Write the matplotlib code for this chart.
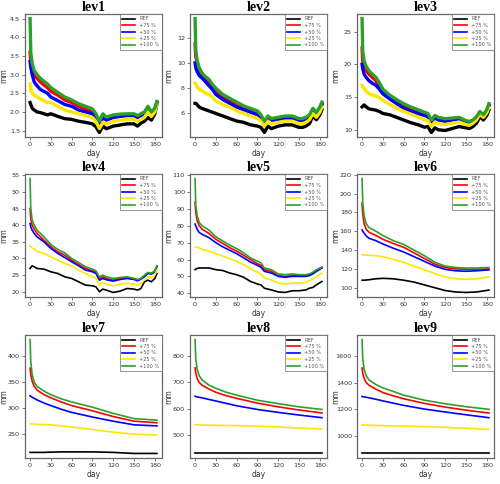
import matplotlib
matplotlib.use("Agg")
from matplotlib import pyplot as plt

# ---- data ----
labels = ["REF", "+75 %", "+50 %", "+25 %", "+100 %"]
colors = ["black", "red", "blue", "#FFE600", "#2CA02C"]

days_a = [0, 1, 3, 6, 10, 15, 20, 25, 30, 40, 50, 60, 70, 80, 90, 95, 100, 105,
          110, 120, 130, 140, 150, 155, 160, 165, 170, 175, 180, 183]

lev1_ref = [2.25, 2.2, 2.1, 2.05, 2.0, 1.98, 1.95, 1.92, 1.95, 1.88, 1.82, 1.8, 1.75, 1.72, 1.68,
            1.6, 1.45, 1.62, 1.55, 1.62, 1.65, 1.68, 1.68, 1.62, 1.7, 1.75, 1.85, 1.78, 1.95, 2.2]
lev1_p75 = [3.6, 3.35, 3.15, 3.0, 2.9, 2.8, 2.72, 2.65, 2.55, 2.45, 2.32, 2.25, 2.15, 2.08, 2.02,
            1.9, 1.7, 1.9, 1.82, 1.88, 1.9, 1.92, 1.92, 1.87, 1.92, 1.97, 2.1, 1.97, 2.07, 2.25]
lev1_p50 = [3.35, 3.2, 3.0, 2.8, 2.7, 2.6, 2.55, 2.5, 2.4, 2.3, 2.2, 2.15, 2.05, 2.0, 1.95,
            1.85, 1.65, 1.85, 1.78, 1.85, 1.88, 1.9, 1.9, 1.85, 1.9, 1.95, 2.08, 1.95, 2.05, 2.25]
lev1_p25 = [2.75, 2.6, 2.5, 2.45, 2.4, 2.35, 2.3, 2.25, 2.25, 2.15, 2.05, 2.0, 1.95, 1.9, 1.85,
            1.75, 1.55, 1.72, 1.68, 1.75, 1.78, 1.8, 1.8, 1.75, 1.8, 1.85, 2.0, 1.88, 2.0, 2.2]
lev1_p100 = [4.5, 3.6, 3.3, 3.1, 3.0, 2.9, 2.82, 2.75, 2.65, 2.52, 2.4, 2.32, 2.22, 2.15, 2.08,
             1.95, 1.75, 1.95, 1.86, 1.92, 1.94, 1.95, 1.95, 1.9, 1.95, 2.0, 2.15, 2.0, 2.1, 2.28]

lev2_ref = [6.8, 6.8, 6.7, 6.5, 6.4, 6.3, 6.2, 6.1, 6.0, 5.8, 5.6, 5.4, 5.3, 5.1, 5.0,
            4.9, 4.5, 5.0, 4.8, 5.0, 5.1, 5.1, 4.9, 4.9, 5.0, 5.2, 5.8, 5.5, 5.9, 6.3]
lev2_p75 = [11.5, 10.5, 10.0, 9.4, 9.0, 8.7, 8.5, 8.1, 7.8, 7.3, 7.0, 6.7, 6.5, 6.2, 6.0,
            5.8, 5.3, 5.7, 5.5, 5.6, 5.7, 5.7, 5.5, 5.5, 5.6, 5.8, 6.3, 6.0, 6.4, 6.8]
lev2_p50 = [10.0, 9.6, 9.3, 9.0, 8.8, 8.5, 8.2, 7.9, 7.5, 7.1, 6.8, 6.5, 6.3, 6.1, 5.9,
            5.7, 5.2, 5.6, 5.4, 5.5, 5.6, 5.6, 5.4, 5.4, 5.5, 5.7, 6.2, 5.9, 6.3, 6.7]
lev2_p25 = [8.4, 8.3, 8.1, 7.9, 7.8, 7.6, 7.5, 7.3, 7.0, 6.7, 6.5, 6.2, 6.0, 5.8, 5.6,
            5.4, 5.0, 5.4, 5.2, 5.3, 5.4, 5.4, 5.2, 5.2, 5.3, 5.5, 6.0, 5.7, 6.1, 6.5]
lev2_p100 = [13.5, 11.0, 10.2, 9.6, 9.2, 8.9, 8.7, 8.3, 8.0, 7.5, 7.2, 6.9, 6.6, 6.4, 6.2,
             5.9, 5.4, 5.8, 5.6, 5.7, 5.8, 5.8, 5.6, 5.6, 5.7, 5.9, 6.4, 6.1, 6.5, 6.9]

lev3_ref = [13.5, 13.6, 13.8, 13.5, 13.2, 13.1, 13.0, 12.8, 12.5, 12.3, 11.9, 11.5, 11.1, 10.8, 10.4,
            10.5, 9.6, 10.3, 10.0, 9.9, 10.2, 10.5, 10.3, 10.2, 10.5, 11.0, 12.0, 11.5, 12.2, 13.0]
lev3_p75 = [22.5, 20.5, 19.5, 19.0, 18.5, 18.0, 17.5, 16.7, 15.8, 15.0, 14.3, 13.6, 13.2, 12.8, 12.4,
            12.2, 11.2, 12.0, 11.7, 11.5, 11.7, 11.8, 11.3, 11.2, 11.4, 11.9, 12.7, 12.2, 13.0, 13.8]
lev3_p50 = [20.0, 19.3, 18.5, 18.0, 17.5, 17.1, 16.8, 16.2, 15.5, 14.7, 14.0, 13.3, 12.9, 12.5, 12.2,
            12.0, 11.0, 11.8, 11.5, 11.3, 11.5, 11.6, 11.2, 11.1, 11.3, 11.8, 12.6, 12.1, 12.9, 13.7]
lev3_p25 = [16.8, 16.6, 16.3, 15.9, 15.5, 15.3, 15.2, 14.9, 14.5, 13.9, 13.3, 12.8, 12.4, 12.0, 11.5,
            11.4, 10.5, 11.2, 10.9, 10.8, 11.0, 11.2, 10.8, 10.7, 11.0, 11.5, 12.4, 11.9, 12.6, 13.4]
lev3_p100 = [27.0, 22.0, 20.5, 19.7, 19.0, 18.5, 18.0, 17.2, 16.2, 15.3, 14.6, 14.0, 13.5, 13.1, 12.7,
             12.5, 11.5, 12.2, 11.9, 11.7, 11.8, 11.9, 11.4, 11.3, 11.5, 12.0, 12.8, 12.3, 13.1, 14.0]

days_4 = [0, 1, 3, 6, 10, 20, 30, 40, 50, 60, 70, 80, 90, 95, 100, 105, 110, 120, 130,
          140, 150, 155, 160, 165, 170, 175, 180, 183]
lev4_ref = [27, 27.3, 27.8, 27.5, 27, 26.8, 26, 25.5, 24.5, 24, 23, 22, 21.8, 21.5, 20, 20.8, 20.5,
            19.8, 20.2, 21, 20.8, 20.5, 21, 23, 23.5, 23, 24, 25.5]
lev4_p75 = [45, 42, 40, 38.8, 37.5, 35.5, 33.5, 32, 31, 29.5, 28.2, 27, 26.3, 26, 24, 24.5, 24,
            23.5, 24, 24.2, 23.9, 23.5, 24, 24.8, 25.7, 25.5, 26.2, 27.7]
lev4_p50 = [40.5, 39.5, 38.5, 37.5, 36.5, 35, 33, 31.5, 30.3, 29, 27.8, 26.5, 26, 25.5, 23.5, 24,
            23.6, 23.2, 23.7, 24, 23.7, 23.3, 23.8, 24.5, 25.5, 25.3, 26, 27.5]
lev4_p25 = [33.8, 33.5, 33.2, 32.8, 32.2, 31.5, 30.5, 29.5, 28.5, 27.8, 26.5, 25.5, 24.5, 24.2, 22,
            22.8, 22.2, 21.8, 22.3, 22.5, 22.3, 22, 22.5, 23.5, 24.5, 24.3, 25, 26.5]
lev4_p100 = [54, 45, 41.5, 40, 38.5, 36.5, 34.2, 32.7, 31.7, 30, 28.8, 27.5, 26.8, 26.3, 24.5, 25,
             24.5, 24, 24.3, 24.5, 24, 23.7, 24, 25, 25.8, 25.6, 26.3, 27.8]

days_5 = [0, 1, 3, 6, 10, 20, 30, 40, 50, 60, 70, 80, 90, 95, 100, 110, 120, 130, 140,
          150, 160, 165, 170, 175, 183]
lev5_ref = [54, 54.3, 54.7, 55, 55, 55, 54, 53.5, 52, 51, 49.5, 47, 45.5, 45, 43, 42, 40.8, 40.5,
            41.5, 41.5, 42, 43, 43.5, 45, 47]
lev5_p75 = [94, 88, 83, 80, 78, 75.5, 72, 69.5, 67, 65, 62.5, 60, 57.5, 56.5, 54, 53, 50.5, 50,
            50.5, 50.5, 50.5, 51, 52, 53.5, 55.5]
lev5_p50 = [81, 80, 78, 76, 75, 73, 70, 67.5, 65.5, 63.5, 61, 58.5, 56.5, 55.5, 53, 52, 50, 49.5,
            50, 50, 50, 50.5, 51.5, 53, 55]
lev5_p25 = [67.5, 67.4, 67.2, 67, 66, 65, 63.5, 62, 60.5, 59, 57, 54.5, 52.5, 51.5, 49, 48, 46,
            45.5, 46, 46, 46.5, 47.5, 48.5, 50, 52]
lev5_p100 = [108, 92, 86, 82, 80, 77.5, 73.5, 71, 68.5, 66.5, 64, 61, 59, 58, 55, 54, 51.5, 51,
             51.5, 51, 51, 51.5, 52.5, 54, 55.5]

days_6 = [0, 1, 3, 6, 10, 20, 30, 45, 60, 75, 90, 105, 120, 135, 150, 165, 183]
lev6_ref = [108, 108, 108, 108.2, 108.5, 109.5, 110, 109.5, 108, 106, 103, 100, 97, 95.5, 95, 95.5, 97.5]
lev6_p75 = [190, 178, 168, 162, 159, 155.5, 151.5, 147, 143, 137, 131, 125, 121.5, 120, 119.5, 119.5, 120]
lev6_p50 = [161.5, 160, 158, 155, 152.5, 150, 146.5, 142, 138, 133, 128, 123, 119.5, 118, 117.5, 118, 119]
lev6_p25 = [135, 135, 134.8, 134.6, 134.5, 134, 133, 130, 127, 123, 119, 115, 111.5, 109.5, 109, 109.5, 111.5]
lev6_p100 = [216, 190, 176, 168, 164, 160, 155.5, 150, 146, 140, 134, 127, 123, 121.5, 121, 121, 121.5]

days_c = [0, 1, 3, 6, 10, 20, 30, 45, 60, 90, 120, 150, 183]
lev7_ref = [215, 215, 215, 215, 215, 215, 215.5, 216, 216, 216, 215, 213, 213]
lev7_p75 = [377, 365, 352, 342, 335, 326, 320, 312, 305, 295, 284, 275, 272]
lev7_p50 = [324, 323, 321, 319, 316, 310, 305, 298, 292, 283, 275, 268, 266]
lev7_p25 = [270, 270, 270, 269.5, 269, 268.5, 268, 266, 264, 259, 254, 250, 248.5]
lev7_p100 = [432, 390, 365, 350, 342, 333, 326, 318, 312, 302, 290, 280, 277]

lev8_ref = [432, 432, 432, 432, 432, 432, 432, 432, 432, 432, 432, 432, 432]
lev8_p75 = [755, 735, 715, 700, 690, 675, 663, 650, 640, 622, 608, 596, 585]
lev8_p50 = [648, 647, 645, 644, 642, 636, 630, 621, 612, 598, 587, 577, 567]
lev8_p25 = [540, 540, 540, 539.5, 539, 538.5, 538, 537.5, 537, 535, 532, 528, 524]
lev8_p100 = [862, 790, 750, 725, 710, 690, 678, 663, 652, 633, 620, 608, 598]

lev9_ref = [865, 865, 865, 865, 865, 865, 865, 865, 865, 865, 865, 865, 865]
lev9_p75 = [1510, 1470, 1430, 1400, 1380, 1350, 1325, 1300, 1278, 1243, 1215, 1192, 1170]
lev9_p50 = [1295, 1294, 1292, 1289, 1285, 1274, 1262, 1245, 1228, 1200, 1178, 1157, 1135]
lev9_p25 = [1080, 1080, 1079, 1079, 1078, 1076, 1075, 1073, 1072, 1067, 1062, 1055, 1047]
lev9_p100 = [1725, 1580, 1500, 1450, 1420, 1385, 1360, 1333, 1305, 1267, 1240, 1218, 1198]

panels = [
    ("lev1", days_a, [lev1_ref, lev1_p75, lev1_p50, lev1_p25, lev1_p100], [1.5, 2.0, 2.5, 3.0, 3.5, 4.0, 4.5]),
    ("lev2", days_a, [lev2_ref, lev2_p75, lev2_p50, lev2_p25, lev2_p100], [6, 8, 10, 12]),
    ("lev3", days_a, [lev3_ref, lev3_p75, lev3_p50, lev3_p25, lev3_p100], [10, 15, 20, 25]),
    ("lev4", days_4, [lev4_ref, lev4_p75, lev4_p50, lev4_p25, lev4_p100], [20, 25, 30, 35, 40, 45, 50, 55]),
    ("lev5", days_5, [lev5_ref, lev5_p75, lev5_p50, lev5_p25, lev5_p100], [40, 50, 60, 70, 80, 90, 100, 110]),
    ("lev6", days_6, [lev6_ref, lev6_p75, lev6_p50, lev6_p25, lev6_p100], [100, 120, 140, 160, 180, 200, 220]),
    ("lev7", days_c, [lev7_ref, lev7_p75, lev7_p50, lev7_p25, lev7_p100], [250, 300, 350, 400]),
    ("lev8", days_c, [lev8_ref, lev8_p75, lev8_p50, lev8_p25, lev8_p100], [500, 600, 700, 800]),
    ("lev9", days_c, [lev9_ref, lev9_p75, lev9_p50, lev9_p25, lev9_p100], [1000, 1200, 1400, 1600]),
]


def main():
    W, H = 500, 484
    fig = plt.figure(figsize=(W / 100, H / 100), dpi=100)
    lefts = [25, 190, 357]
    tops = [14, 174, 335]
    aw, ah = 137, 123
    edge = "#666666"
    txt = "#333333"

    for i, (name, days, series, yticks) in enumerate(panels):
        r, c = divmod(i, 3)
        ax = fig.add_axes([lefts[c] / W, (H - tops[r] - ah) / H, aw / W, ah / H])
        lw = 2.4 if r == 0 else 1.2
        for vals, lab, col in zip(series, labels, colors):
            ax.plot(days, vals, color=col, lw=lw, label=lab)
        ax.margins(x=0.04, y=0.04)
        ax.set_xticks([0, 30, 60, 90, 120, 150, 180])
        ax.set_yticks(yticks)
        ax.tick_params(labelsize=4.6, length=2.5, width=0.6, color=edge,
                       labelcolor=txt, pad=1.2)
        for s in ax.spines.values():
            s.set_color(edge)
            s.set_linewidth(0.9)
        ax.set_xlabel("day", fontsize=5.5, color=txt, labelpad=1.5)
        ax.set_ylabel("mm", fontsize=5.5, color=txt)
        # keep the y label inside the figure, as in the reference
        ax.yaxis.set_label_coords(-0.12, 0.5)
        ax.set_title(name, fontsize=10, fontweight="bold", family="Liberation Serif", pad=1.5)
        leg = ax.legend(loc="upper right", fontsize=3.6, frameon=True, fancybox=False,
                        handlelength=2.6, handletextpad=0.8, borderpad=0.5,
                        labelspacing=0.3, borderaxespad=0.0)
        leg.get_frame().set_edgecolor(edge)
        leg.get_frame().set_linewidth(0.6)
        for t in leg.get_texts():
            t.set_color("#555555")
        for h in leg.get_lines():
            h.set_linewidth(1.2)

    fig.savefig("out.png", dpi=100)


if __name__ == '__main__':
    main()
